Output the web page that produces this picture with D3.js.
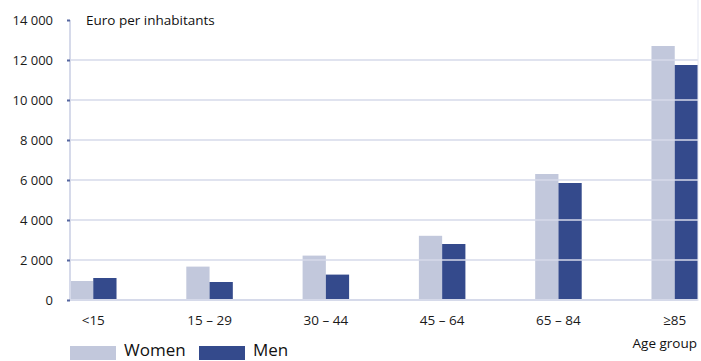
<!DOCTYPE html>
<html><head><meta charset="utf-8">
<script src="https://cdn.jsdelivr.net/npm/d3@7"></script>
<style>body{margin:0;background:#fff}svg{display:block;font-family:"Open Sans",sans-serif}</style>
</head><body><svg id="c" width="701" height="361"></svg>
<script>
const categories = ["<15", "15 – 29", "30 – 44", "45 – 64", "65 – 84", "≥85"];
const women = [950, 1670, 2220, 3210, 6300, 12700];
const men = [1100, 900, 1270, 2800, 5850, 11750];
const yTicks = [0, 2000, 4000, 6000, 8000, 10000, 12000, 14000];
const seriesNames = ["Women", "Men"];
const colors = ["#c2c8dc", "#344a8c"];

const svg = d3.select("#c");
const x = d3.scaleBand().domain(categories).range([70, 698]).paddingInner(0.6).paddingOuter(0);
const xs = d3.scaleBand().domain(seriesNames).range([0, x.bandwidth()]);
const y = d3.scaleLinear().domain([0, 14000]).range([300, 20]);
const fmt = v => d3.format(",")(v).replace(/,/g, "\u00a0");

const data = categories.map((c, i) => ({c, vals: [women[i], men[i]]}));
const g = svg.append("g");
g.selectAll("g.grp").data(data).join("g").attr("transform", d => `translate(${x(d.c)},0)`)
  .selectAll("rect").data(d => d.vals.map((v, j) => ({v, s: seriesNames[j], j})))
  .join("rect").attr("x", d => xs(d.s)).attr("width", xs.bandwidth())
  .attr("y", d => y(d.v)).attr("height", d => y(0) - y(d.v)).attr("fill", d => colors[d.j]);

// gridlines over bars
svg.append("g").selectAll("line").data(yTicks.filter(t => t > 0 && t < 14000)).join("line")
  .attr("x1", 70).attr("x2", 698).attr("y1", d => y(d)).attr("y2", d => y(d))
  .attr("stroke", "#d6daea").attr("stroke-opacity", 0.75).attr("stroke-width", 2);
// baseline
svg.append("line").attr("x1", 70).attr("x2", 698).attr("y1", y(0)).attr("y2", y(0))
  .attr("stroke", "#d6daea").attr("stroke-width", 2);
// y axis
const ya = svg.append("g").attr("transform", "translate(70,0)")
  .call(d3.axisLeft(y).tickValues(yTicks).tickFormat(fmt).tickSize(3).tickPadding(14));
ya.select(".domain").attr("stroke", "#d6daea").attr("stroke-width", 2).attr("d", `M0,${y(14000)}V${y(0)}`);
ya.selectAll(".tick line").attr("stroke", "#5566a0").attr("stroke-width", 2);
ya.selectAll(".tick text").attr("font-size", 13).attr("fill", "#1a1a1a").attr("font-family", '"Open Sans",sans-serif');
// right edge line
svg.append("line").attr("x1", 698).attr("x2", 698).attr("y1", 0).attr("y2", 301)
  .attr("stroke", "#e4e7f2").attr("stroke-width", 1);

// x labels
svg.append("g").selectAll("text").data(categories).join("text")
  .attr("x", d => x(d) + x.bandwidth() / 2).attr("y", 325).attr("text-anchor", "middle")
  .attr("font-size", 13.5).attr("fill", "#1a1a1a").text(d => d);

svg.append("text").attr("x", 86).attr("y", 25).attr("font-size", 13.5).attr("fill", "#111").text("Euro per inhabitants");
svg.append("text").attr("x", 697).attr("y", 348).attr("text-anchor", "end").attr("font-size", 13.5).attr("fill", "#111").text("Age group");

// legend
const lg = svg.append("g").selectAll("g").data(seriesNames).join("g")
  .attr("transform", (d, i) => `translate(${70 + i * 129},0)`);
lg.append("rect").attr("x", 0).attr("y", 346).attr("width", 46).attr("height", 14).attr("fill", (d, i) => colors[i]);
lg.append("text").attr("x", 54).attr("y", 355.5).attr("font-size", 17).attr("fill", "#111").text(d => d);
</script></body></html>
